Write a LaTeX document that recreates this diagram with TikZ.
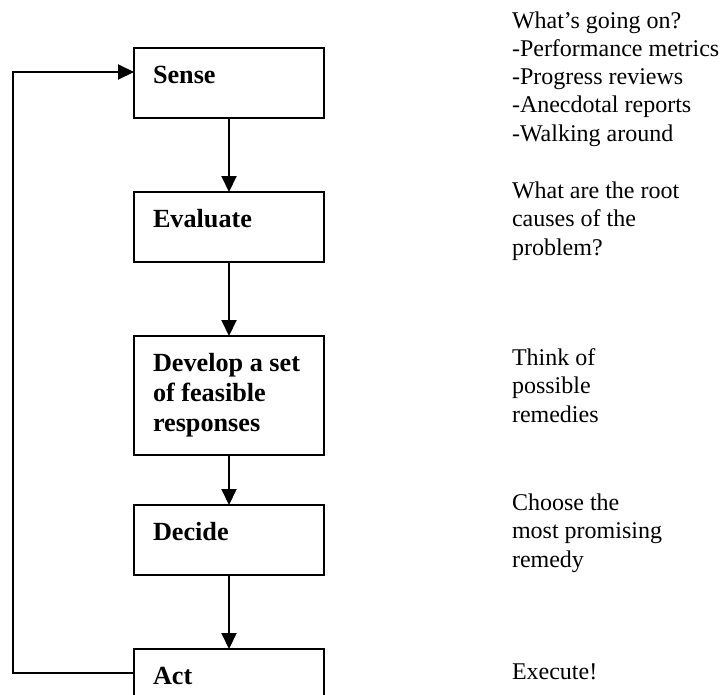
\documentclass[tikz,border=0pt]{standalone}
\usepackage{fontspec}
\setmainfont{Liberation Serif}
\usetikzlibrary{positioning,calc,arrows.meta}

\begin{document}
\begin{tikzpicture}[x=1pt, y=-1pt, node distance=74pt, outer sep=0pt,
    stepbox/.style={draw, line width=2pt, rectangle, minimum width=190pt, minimum height=70pt, inner sep=0pt},
    steptext/.style={anchor=base west, align=left, inner sep=0pt, font=\fontsize{26.2}{30}\selectfont\bfseries},
    note/.style={anchor=base west, align=left, inner sep=0pt, font=\fontsize{24}{28.2}\selectfont},
    flow/.style={line width=2pt, -{Triangle[length=16pt, width=15pt]}}]
    \useasboundingbox (0,0) rectangle (722,694);
    \clip (0,0) rectangle (722,694);

    % the five steps
    \node [stepbox, anchor=north] (sense) at (229,48) {};
    \node [stepbox, below=of sense] (eval) {};
    \node [stepbox, below=of eval, minimum height=119pt] (dev) {};
    \node [stepbox, below=50pt of dev] (decide) {};
    \node [stepbox, below=of decide] (act) {};

    % base anchor sits on the last line
    \node [steptext] (sensetxt) at ($(sense.north west)+(19,35)$) {Sense};
    \node [steptext] (evaltxt) at ($(eval.north west)+(19,35)$) {Evaluate};
    \node [steptext] (devtxt) at ($(dev.north west)+(19,95)$) {Develop a set\\of feasible\\responses};
    \node [steptext] (decidetxt) at ($(decide.north west)+(19,35)$) {Decide};
    \node [steptext] (acttxt) at ($(act.north west)+(19,35)$) {Act};

    \draw [flow] (sense) -- (eval);
    \draw [flow] (eval) -- (dev);
    \draw [flow] (dev) -- (decide);
    \draw [flow] (decide) -- (act);
    \draw [flow] ([yshift=-24pt]act.north west) -- ++(-121,0) |- ([yshift=-24pt]sense.north west);

    % notes on the right
    \node [note] (sensenote) at (512,141) {What's going on?\\-Performance metrics\\-Progress reviews\\-Anecdotal reports\\-Walking around};
    \node [note] (evalnote) at (512,255) {What are the root\\causes of the\\problem?};
    \node [note] (devnote) at (512,422) {Think of\\possible\\remedies};
    \node [note] (decidenote) at (512,567) {Choose the\\most promising\\remedy};
    \node [note] (actnote) at (512,679) {Execute!};

\end{tikzpicture}
\end{document}
